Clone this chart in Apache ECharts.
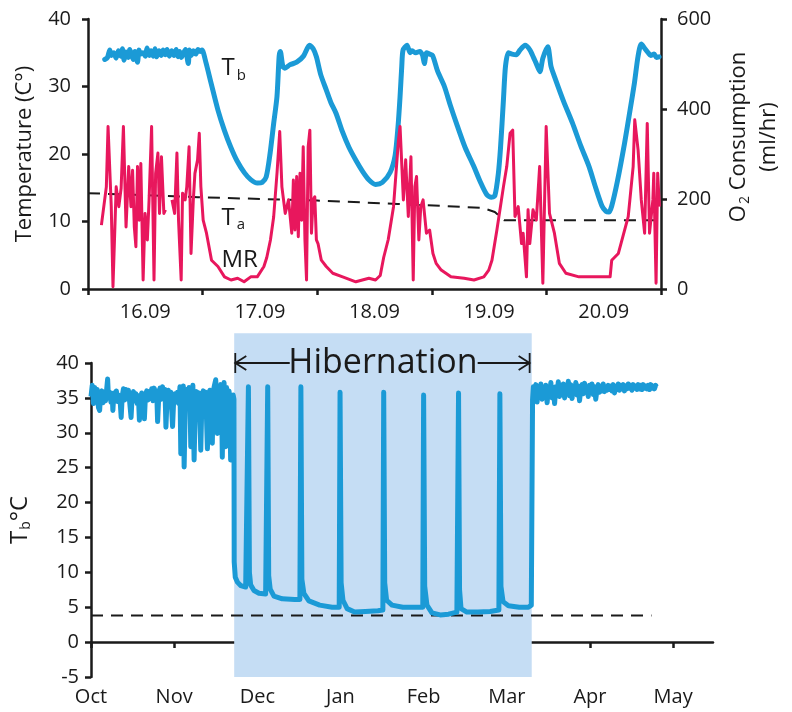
<!DOCTYPE html>
<html><head><meta charset="utf-8">
<script src="https://cdn.jsdelivr.net/npm/echarts@6/dist/echarts.min.js"></script>
<style>html,body{margin:0;padding:0;background:#fff}#c{width:792px;height:712px}</style>
</head><body><div id="c"></div>
<script>
const FONT = 'Open Sans';
const INK = '#1a1a1a';
const BLUE = '#1b9ad6';
const RED = '#e8175d';

// ---- top panel: days since 16.09 ----
const dayLabels = ['16.09', '17.09', '18.09', '19.09', '20.09'];
const dayTicks = [0, 1, 2, 3, 4, 5];
const dayLabelPos = [0.5, 1.5, 2.5, 3.5, 4.5];

const tbTop = [[0.146,34.0],[0.17,34.3],[0.19,35.4],[0.205,34.6],[0.225,35.0],[0.245,34.2],[0.265,35.3],[0.285,34.5],[0.30,35.6],[0.315,33.9],[0.33,35.1],[0.35,34.3],[0.365,35.5],[0.38,34.7],[0.395,34.0],[0.41,35.2],[0.432,33.6],[0.445,35.4],[0.46,34.8],[0.48,35.0],[0.50,34.5],[0.515,35.7],[0.535,34.6],[0.55,35.3],[0.57,34.5],[0.585,35.6],[0.60,34.4],[0.62,35.3],[0.64,34.6],[0.655,35.4],[0.675,34.7],[0.69,35.5],[0.71,34.5],[0.73,35.3],[0.75,34.6],[0.77,35.5],[0.785,34.4],[0.80,35.2],[0.815,34.3],[0.83,34.8],[0.85,35.5],[0.875,33.4],[0.885,35.4],[0.90,34.6],[0.92,35.3],[0.94,34.8],[0.96,35.5],[0.98,35.2],[0.995,35.4],[1.03,33.5],[1.074,30.5],[1.134,26.5],[1.19,23.5],[1.246,21.0],[1.30,19.0],[1.366,17.2],[1.42,16.2],[1.478,15.7],[1.52,15.8],[1.555,16.6],[1.589,20.1],[1.62,24.5],[1.649,28.5],[1.668,34.5],[1.678,35.2],[1.70,33.0],[1.718,32.7],[1.76,33.2],[1.821,33.6],[1.88,34.5],[1.933,36.1],[1.965,35.6],[1.993,34.4],[2.03,31.8],[2.079,29.5],[2.12,27.6],[2.165,26.0],[2.22,23.3],[2.277,21.0],[2.34,19.0],[2.397,17.4],[2.45,16.2],[2.509,15.5],[2.569,15.8],[2.637,17.3],[2.68,19.8],[2.705,24.0],[2.723,28.5],[2.738,33.0],[2.749,35.4],[2.784,36.1],[2.81,35.0],[2.826,35.3],[2.86,35.0],[2.895,35.2],[2.92,34.6],[2.935,33.4],[2.955,35.0],[2.98,34.8],[3.007,34.6],[3.05,32.3],[3.11,30.0],[3.16,27.3],[3.222,24.2],[3.29,21.0],[3.368,18.1],[3.42,16.0],[3.479,14.0],[3.52,13.6],[3.55,13.8],[3.58,17.0],[3.60,21.0],[3.625,28.0],[3.643,33.0],[3.668,35.0],[3.70,34.8],[3.737,34.7],[3.77,35.4],[3.814,36.1],[3.857,35.4],[3.89,34.2],[3.909,33.5],[3.943,32.2],[3.969,34.2],[4.012,35.9],[4.04,33.0],[4.072,31.4],[4.15,27.8],[4.227,24.6],[4.30,21.2],[4.373,18.1],[4.43,15.0],[4.485,12.3],[4.52,11.5],[4.545,11.4],[4.57,12.3],[4.62,16.0],[4.682,21.6],[4.73,26.5],[4.768,30.5],[4.80,34.5],[4.828,36.3],[4.86,35.6],[4.888,35.0],[4.91,34.6],[4.94,34.8],[4.96,34.3],[4.983,34.4]];

const taTop = [[0,14.2],[0.96,13.6],[2.0,13.1],[2.7,12.6],[3.1,12.3],[3.45,12.0],[3.55,11.4],[3.63,10.2],[4.94,10.2]];

const mrTop = [[0.117,142],[0.160,227],[0.175,361],[0.203,183],[0.218,5],[0.246,227],[0.269,183],[0.289,224],[0.309,361],[0.332,138],[0.355,272],[0.375,183],[0.389,264],[0.404,138],[0.418,94],[0.432,272],[0.447,153],[0.461,279],[0.481,20],[0.498,168],[0.518,109],[0.533,198],[0.555,361],[0.576,20],[0.590,257],[0.610,302],[0.624,168],[0.641,294],[0.662,168],[0.676,176],null,[0.733,198],[0.756,168],[0.776,302],[0.790,153],[0.813,20],[0.825,213],[0.848,198],[0.862,227],[0.882,316],[0.899,79],[0.919,198],[0.933,257],[0.956,287],[0.971,346],[0.985,227],[1.005,153],[1.034,124],[1.078,64],[1.134,50],[1.191,27],[1.248,20],[1.306,24],[1.362,16],[1.420,27],[1.477,27],[1.535,50],[1.56,70],[1.592,109],[1.62,160],[1.65,260],[1.673,350],[1.692,227],[1.721,168],[1.750,198],[1.778,124],[1.792,242],[1.806,131],[1.821,250],[1.835,116],[1.850,257],[1.864,153],[1.878,316],[1.893,109],[1.907,20],[1.921,316],[1.936,353],[1.950,124],[1.964,198],[1.979,205],[1.993,109],[2.007,101],[2.036,64],[2.079,50],[2.136,35],[2.222,27],[2.337,16],[2.394,20],[2.451,24],[2.509,20],[2.55,30],[2.58,70],[2.62,110],[2.666,183],[2.709,331],[2.723,361],[2.752,198],[2.772,287],[2.795,161],[2.818,294],[2.838,20],[2.852,227],[2.867,250],[2.887,109],[2.904,183],[2.924,198],[2.953,124],[2.981,131],[3.010,79],[3.038,57],[3.082,42],[3.167,27],[3.282,24],[3.368,20],[3.454,27],[3.497,42],[3.525,64],[3.568,131],[3.625,227],[3.654,272],[3.683,346],[3.706,353],[3.726,161],[3.754,183],[3.783,101],[3.797,124],[3.826,27],[3.840,176],[3.855,101],[3.883,176],[3.912,153],[3.941,272],[3.969,13],[3.998,361],[4.027,168],[4.070,124],[4.113,57],[4.170,35],[4.284,27],[4.399,27],[4.513,27],[4.556,27],[4.570,64],[4.628,79],[4.714,161],[4.757,272],[4.771,376],[4.800,309],[4.828,198],[4.857,124],[4.880,368],[4.900,124],[4.929,198],[4.937,257],[4.957,13],[4.971,257],[4.986,183]];

const topLabels = [
  { name: 'T{s|b}', coord: [1.16, 32.7] },
  { name: 'T{s|a}', coord: [1.16, 10.5] },
  { name: 'MR', coord: [1.16, 4.3] }
];

// ---- bottom panel: months since 1 Oct ----
const monthLabels = ['Oct', 'Nov', 'Dec', 'Jan', 'Feb', 'Mar', 'Apr', 'May'];
const monthTicks = [0, 1, 2, 3, 4, 5, 6, 7];

const tbYear = [[0.00,35.2],[0.015,36.8],[0.03,34.2],[0.045,36.5],[0.06,34.8],[0.075,36.2],[0.09,33.6],[0.104,33.2],[0.115,35.6],[0.13,36.0],[0.145,34.3],[0.16,35.8],[0.175,34.6],[0.19,36.4],[0.2,37.7],[0.21,35.0],[0.225,35.8],[0.24,34.4],[0.255,35.5],[0.263,33.2],[0.275,35.7],[0.29,34.8],[0.305,36.0],[0.32,34.5],[0.335,35.4],[0.35,34.6],[0.363,32.2],[0.375,35.2],[0.39,36.3],[0.405,34.7],[0.42,36.2],[0.435,35.0],[0.45,36.1],[0.465,34.4],[0.482,32.2],[0.495,35.3],[0.51,35.9],[0.525,34.6],[0.54,35.6],[0.555,34.2],[0.57,35.3],[0.582,31.8],[0.595,34.8],[0.61,35.7],[0.625,34.5],[0.642,32.0],[0.655,35.4],[0.67,36.0],[0.685,34.7],[0.70,35.9],[0.715,34.9],[0.73,36.3],[0.745,34.6],[0.76,36.4],[0.775,35.1],[0.79,36.0],[0.801,31.6],[0.815,35.3],[0.83,36.4],[0.845,34.8],[0.86,36.6],[0.875,35.0],[0.89,36.2],[0.901,30.8],[0.915,35.0],[0.93,36.1],[0.945,34.7],[0.96,35.8],[0.981,30.9],[0.995,34.9],[1.01,35.6],[1.025,34.4],[1.04,35.8],[1.055,34.2],[1.07,36.6],[1.08,27.0],[1.095,35.2],[1.11,36.7],[1.12,25.1],[1.135,34.8],[1.15,36.2],[1.165,34.0],[1.18,36.5],[1.19,35.0],[1.2,28.0],[1.21,34.9],[1.225,36.8],[1.24,26.1],[1.255,34.6],[1.27,35.9],[1.285,34.1],[1.30,35.7],[1.32,27.5],[1.335,35.2],[1.35,36.0],[1.365,34.2],[1.38,35.8],[1.40,27.7],[1.415,35.4],[1.43,36.1],[1.445,34.6],[1.459,28.5],[1.47,35.9],[1.485,36.8],[1.5,37.6],[1.51,35.0],[1.519,29.9],[1.53,36.2],[1.545,35.0],[1.56,36.9],[1.57,35.3],[1.579,26.5],[1.59,35.8],[1.6,37.2],[1.61,34.8],[1.619,28.0],[1.63,36.5],[1.645,34.5],[1.66,36.0],[1.67,34.8],[1.679,26.1],[1.69,35.4],[1.70,34.2],[1.71,35.4],
[1.719,34.8],[1.722,11.5],[1.735,9.3],[1.76,8.6],[1.80,8.1],[1.86,7.9],[1.882,8.0],[1.893,36.6],[1.905,10.0],[1.92,8.2],[1.96,7.4],[2.02,7.0],[2.10,6.9],[2.115,7.0],[2.125,36.6],[2.137,9.5],[2.155,7.6],[2.20,6.6],[2.30,6.2],[2.45,6.1],[2.512,6.1],[2.524,36.6],[2.536,9.0],[2.56,7.0],[2.62,5.9],[2.75,5.3],[2.90,5.0],[2.985,5.0],[2.995,35.8],[3.008,8.5],[3.03,6.0],[3.08,4.8],[3.17,4.3],[3.30,4.4],[3.45,4.5],[3.51,4.6],[3.52,35.8],[3.532,8.5],[3.555,6.0],[3.62,5.3],[3.75,5.0],[3.90,5.0],[3.99,5.0],[4.0,35.4],[4.013,8.0],[4.04,5.3],[4.10,4.2],[4.20,3.9],[4.30,4.0],[4.40,4.3],[4.41,4.5],[4.42,35.7],[4.432,7.5],[4.45,4.8],[4.52,4.3],[4.65,4.3],[4.80,4.4],[4.905,4.6],[4.917,35.6],[4.93,8.0],[4.955,5.8],[5.02,5.2],[5.15,5.0],[5.26,5.0],[5.295,5.3],
[5.31,34.7],[5.32,36.6],[5.335,35.2],[5.35,36.9],[5.365,34.4],[5.38,36.5],[5.395,35.6],[5.41,37.0],[5.425,34.8],[5.44,36.4],[5.455,35.4],[5.47,36.8],[5.485,34.3],[5.50,36.2],[5.515,35.5],[5.53,37.2],[5.545,35.0],[5.56,36.5],[5.575,34.2],[5.59,36.6],[5.605,35.8],[5.62,37.3],[5.635,35.2],[5.65,36.4],[5.665,35.6],[5.68,37.0],[5.695,35.0],[5.71,36.8],[5.725,35.7],[5.74,37.4],[5.755,35.3],[5.77,36.9],[5.785,34.9],[5.80,36.6],[5.815,35.8],[5.83,37.2],[5.845,35.4],[5.86,36.7],[5.875,34.6],[5.89,36.3],[5.905,36.9],[5.92,35.6],[5.935,37.1],[5.95,35.9],[5.965,36.5],[5.98,35.2],[5.995,36.8],[6.01,36.0],[6.025,37.0],[6.04,35.5],[6.055,36.6],[6.07,34.8],[6.085,36.2],[6.10,36.9],[6.115,35.8],[6.13,36.6],[6.145,36.0],[6.16,37.0],[6.175,35.9],[6.19,36.5],[6.205,36.1],[6.22,36.8],[6.235,36.2],[6.25,36.7],[6.265,36.0],[6.28,36.9],[6.295,35.7],[6.31,36.6],[6.325,36.2],[6.34,37.0],[6.355,36.1],[6.37,36.8],[6.385,36.3],[6.40,36.9],[6.415,36.0],[6.43,36.7],[6.445,36.3],[6.46,37.0],[6.475,36.4],[6.49,36.8],[6.505,36.1],[6.52,36.9],[6.535,36.4],[6.55,36.7],[6.565,36.2],[6.58,36.9],[6.595,36.3],[6.61,36.8],[6.625,36.2],[6.64,36.9],[6.655,36.4],[6.67,36.7],[6.685,36.3],[6.70,36.8],[6.715,36.2],[6.73,36.9],[6.745,36.4],[6.76,36.7],[6.775,36.3],[6.79,36.8],[6.80,36.6]];

const taYear = [[0, 3.8], [6.74, 3.8]];
const hibernation = [1.722, 5.30];      // shaded period (months since 1 Oct)
const hibShadeTop = 44.25;              // shading extends above the 40 °C tick
const hibArrowLeft = [1.735, 2.39];
const hibArrowRight = [4.65, 5.275];
const hibLabelY = 40;

const axisStyle = { lineStyle: { color: INK, width: 2.5 } };
const tickStyle = { show: true, inside: false, length: 6, lineStyle: { color: INK, width: 2.5 } };
const labelBase = { color: INK, fontFamily: FONT, fontSize: 20 };
const subRich = { s: { fontSize: 14, fontFamily: FONT, color: INK, padding: [12, 0, 0, 1] } };

const chart = echarts.init(document.getElementById('c'), null, { renderer: 'canvas' });
chart.setOption({
  animation: false,
  backgroundColor: '#fff',
  grid: [
    { left: 88, top: 19, width: 582, height: 270 },
    { left: 88, top: 363, width: 625, height: 314 }
  ],
  xAxis: [
    {
      type: 'value', gridIndex: 0, min: 0, max: 5,
      axisLine: axisStyle,
      axisTick: Object.assign({ customValues: dayTicks }, tickStyle),
      axisLabel: Object.assign({ customValues: dayLabelPos, margin: 13,
        formatter: v => dayLabels[Math.floor(v)] }, labelBase),
      splitLine: { show: false }
    },
    {
      type: 'value', gridIndex: 1, min: 0, max: 7.48,
      axisLine: axisStyle,
      axisTick: Object.assign({ customValues: monthTicks }, tickStyle),
      axisLabel: Object.assign({ customValues: monthTicks, margin: 10,
        formatter: v => monthLabels[Math.round(v)] }, labelBase),
      splitLine: { show: false }
    }
  ],
  yAxis: [
    {
      type: 'value', gridIndex: 0, min: 0, max: 40, interval: 10,
      name: 'Temperature (C°)', nameLocation: 'middle', nameRotate: 90, nameGap: 52,
      nameTextStyle: { color: INK, fontFamily: FONT, fontSize: 22 },
      axisLine: { show: true, lineStyle: { color: INK, width: 2.5 } },
      axisTick: tickStyle,
      axisLabel: Object.assign({ margin: 17 }, labelBase),
      splitLine: { show: false }
    },
    {
      type: 'value', gridIndex: 0, position: 'right', min: 0, max: 600, interval: 200,
      name: 'O{s|2} Consumption\n(ml/hr)', nameLocation: 'middle', nameRotate: 90, nameGap: 63,
      nameTextStyle: { color: INK, fontFamily: FONT, fontSize: 22, lineHeight: 30,
        padding: [0, 0, 0, 34], rich: subRich },
      axisLine: { show: true, lineStyle: { color: INK, width: 2.5 } },
      axisTick: tickStyle,
      axisLabel: Object.assign({ margin: 16 }, labelBase),
      splitLine: { show: false }
    },
    {
      type: 'value', gridIndex: 1, min: -5, max: 40, interval: 5,
      name: 'T{s|b}°C', nameLocation: 'middle', nameRotate: 90, nameGap: 58,
      nameTextStyle: { color: INK, fontFamily: FONT, fontSize: 24, rich: subRich },
      axisLine: { show: true, lineStyle: { color: INK, width: 2.5 } },
      axisTick: tickStyle,
      axisLabel: Object.assign({ margin: 12 }, labelBase),
      splitLine: { show: false }
    }
  ],
  series: [
    {
      name: 'Ta', type: 'line', xAxisIndex: 0, yAxisIndex: 0, data: taTop,
      showSymbol: false, symbol: 'none',
      lineStyle: { color: INK, width: 2, type: [12, 8] }, z: 3,
      markPoint: {
        symbol: 'circle', symbolSize: 1, itemStyle: { color: 'rgba(0,0,0,0)' },
        label: { show: true, position: 'right', distance: 0, formatter: '{b}',
          color: INK, fontFamily: FONT, fontSize: 24,
          rich: { s: { fontSize: 15, fontFamily: FONT, color: INK, padding: [14, 0, 0, 2] } } },
        data: topLabels
      }
    },
    {
      name: 'Tb', type: 'line', xAxisIndex: 0, yAxisIndex: 0, data: tbTop,
      showSymbol: false, symbol: 'none', smooth: 0.25,
      lineStyle: { color: BLUE, width: 5, join: 'round', cap: 'round' }, z: 4
    },
    {
      name: 'MR', type: 'line', xAxisIndex: 0, yAxisIndex: 1, data: mrTop,
      showSymbol: false, symbol: 'none', connectNulls: false,
      lineStyle: { color: RED, width: 3, join: 'round' }, z: 5
    },
    {
      name: 'Hibernation', type: 'custom', xAxisIndex: 1, yAxisIndex: 2,
      data: [[hibernation[0], hibernation[1]]], encode: { x: [0, 1] }, clip: false, z: 1,
      silent: true,
      renderItem: function (params, api) {
        const p0 = api.coord([hibernation[0], hibShadeTop]);
        const p1 = api.coord([hibernation[1], -5]);
        const y = api.coord([0, hibLabelY])[1];
        const la = api.coord([hibArrowLeft[0], hibLabelY])[0];
        const lb = api.coord([hibArrowLeft[1], hibLabelY])[0];
        const ra = api.coord([hibArrowRight[0], hibLabelY])[0];
        const rb = api.coord([hibArrowRight[1], hibLabelY])[0];
        const mid = api.coord([(hibernation[0] + hibernation[1]) / 2, hibLabelY])[0];
        const st = { stroke: INK, lineWidth: 1.8, fill: null };
        return {
          type: 'group', children: [
            { type: 'rect', shape: { x: p0[0], y: p0[1], width: p1[0] - p0[0], height: p1[1] - p0[1] },
              style: { fill: '#c5ddf4' } },
            { type: 'text', style: { text: 'Hibernation', x: mid, y: y, align: 'center', verticalAlign: 'middle',
              fontFamily: FONT, fontSize: 34, fill: INK } },
            { type: 'line', shape: { x1: la, y1: y, x2: lb, y2: y }, style: st },
            { type: 'polyline', shape: { points: [[la + 11, y - 7], [la, y], [la + 11, y + 7]] }, style: st },
            { type: 'line', shape: { x1: la, y1: y - 10, x2: la, y2: y + 10 }, style: st },
            { type: 'line', shape: { x1: ra, y1: y, x2: rb, y2: y }, style: st },
            { type: 'polyline', shape: { points: [[rb - 11, y - 7], [rb, y], [rb - 11, y + 7]] }, style: st },
            { type: 'line', shape: { x1: rb, y1: y - 10, x2: rb, y2: y + 10 }, style: st }
          ]
        };
      }
    },
    {
      name: 'Ta year', type: 'line', xAxisIndex: 1, yAxisIndex: 2, data: taYear,
      showSymbol: false, symbol: 'none',
      lineStyle: { color: INK, width: 2, type: [12, 8] }, z: 3
    },
    {
      name: 'Tb year', type: 'line', xAxisIndex: 1, yAxisIndex: 2, data: tbYear,
      showSymbol: false, symbol: 'none',
      lineStyle: { color: BLUE, width: 5, join: 'round' }, z: 4
    }
  ]
});
</script>
</body></html>
